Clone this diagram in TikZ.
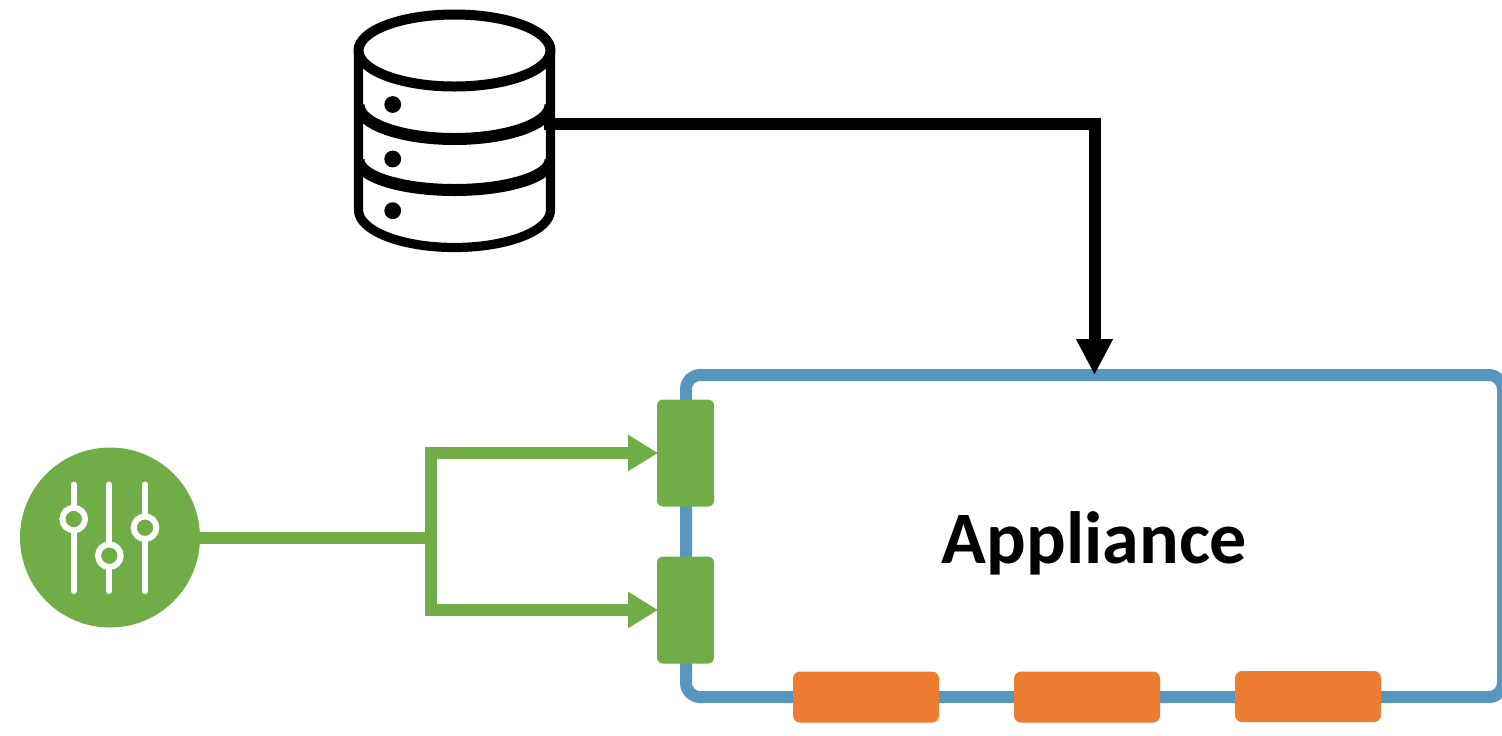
\documentclass[tikz,border=0pt]{standalone}
\usepackage{fontspec}
\setmainfont{Carlito}
\usetikzlibrary{arrows.meta}
\definecolor{boxblue}{HTML}{5797BD}
\definecolor{portgreen}{HTML}{70AD47}
\definecolor{slotorange}{HTML}{ED7D31}
\tikzset{
  x=0.5pt,y=-0.5pt,
  appliancebox/.style={draw=boxblue,line width=6pt,rounded corners=7pt,minimum width=408.5pt,minimum height=161pt,inner sep=0pt,outer sep=0pt},
  port/.style={fill=portgreen,rounded corners=3pt,minimum width=28.5pt,minimum height=53.5pt,inner sep=0pt,outer sep=0pt},
  slot/.style={fill=slotorange,rounded corners=3.5pt,minimum width=73pt,minimum height=25.5pt,inner sep=0pt,outer sep=0pt},
  dbline/.style={draw=black,line width=5pt,line cap=butt,line join=round},
  dbdot/.style={fill=black,circle,minimum size=8.4pt,inner sep=0pt},
  greenline/.style={draw=portgreen,line width=6pt,miter limit=10},
  greenarrow/.style={greenline,shorten >=-0.5pt,-{Triangle[length=15pt,width=17.2pt]}},
  blackarrow/.style={draw=black,line width=6pt,-{Triangle[length=18pt,width=17.2pt]}},
  slider/.style={draw=white,line width=3pt,line cap=round},
  knob/.style={circle,draw=white,fill=portgreen,line width=3pt,minimum size=11.3pt,inner sep=0pt},
}
\begin{document}
\begin{tikzpicture}
\useasboundingbox (0,0) rectangle (1502,735);
\clip (0,0) rectangle (1502,735);
% database
\draw[dbline] (454.5,50.5) ellipse [x radius=96,y radius=36];
\draw[dbline,line width=4.6pt] (358.5,50.5) -- (358.5,210) arc [start angle=180,end angle=0,x radius=96,y radius=37.5] -- (550.5,50.5);
\begin{scope}
  \clip (358.5,60) rectangle (550.5,240);
  \draw[dbline,line width=6pt] (358.5,105) arc [start angle=180,end angle=0,x radius=96,y radius=34];
  \draw[dbline,line width=6pt] (358.5,160) arc [start angle=180,end angle=0,x radius=96,y radius=30];
\end{scope}
\node[dbdot] (d1) at (392.7,104.5) {};
\node[dbdot] (d2) at (392.7,159) {};
\node[dbdot] (d3) at (392.7,210.7) {};
\coordinate (dbport) at (544,123.5);
% appliance
\node[appliancebox] (box) at (1094.5,536) {};
\node[font=\fontsize{37}{37}\selectfont\bfseries] (label) at (1094.5,543) {Appliance};
\draw[blackarrow] (dbport) -| (box.north);
% controller
\node[circle,fill=portgreen,minimum size=90pt,inner sep=0pt,outer sep=0pt] (ctrl) at (110,537.5) {};
\draw[slider] (73.7,484.5) -- (73.7,591);
\draw[slider] (109.3,484.5) -- (109.3,591);
\draw[slider] (145,484.5) -- (145,591);
\node[knob] (k1) at (73.7,519) {};
\node[knob] (k2) at (109.3,555.7) {};
\node[knob] (k3) at (145,527.7) {};
% ports
\coordinate (j) at (431,537.5);
\coordinate (jend) at (437,537.5);
\node[port] (p1) at (685.5,453) {};
\node[port] (p2) at (685.5,610) {};
\draw[greenline] (ctrl.east) -- (jend);
\draw[greenarrow] (j) |- (p1.west);
\draw[greenarrow] (j) |- (p2.west);
% slots
\node[slot] (s1) at (866,697) {};
\node[slot] (s2) at (1087,697) {};
\node[slot] (s3) at (1308,696.5) {};
\end{tikzpicture}
\end{document}
